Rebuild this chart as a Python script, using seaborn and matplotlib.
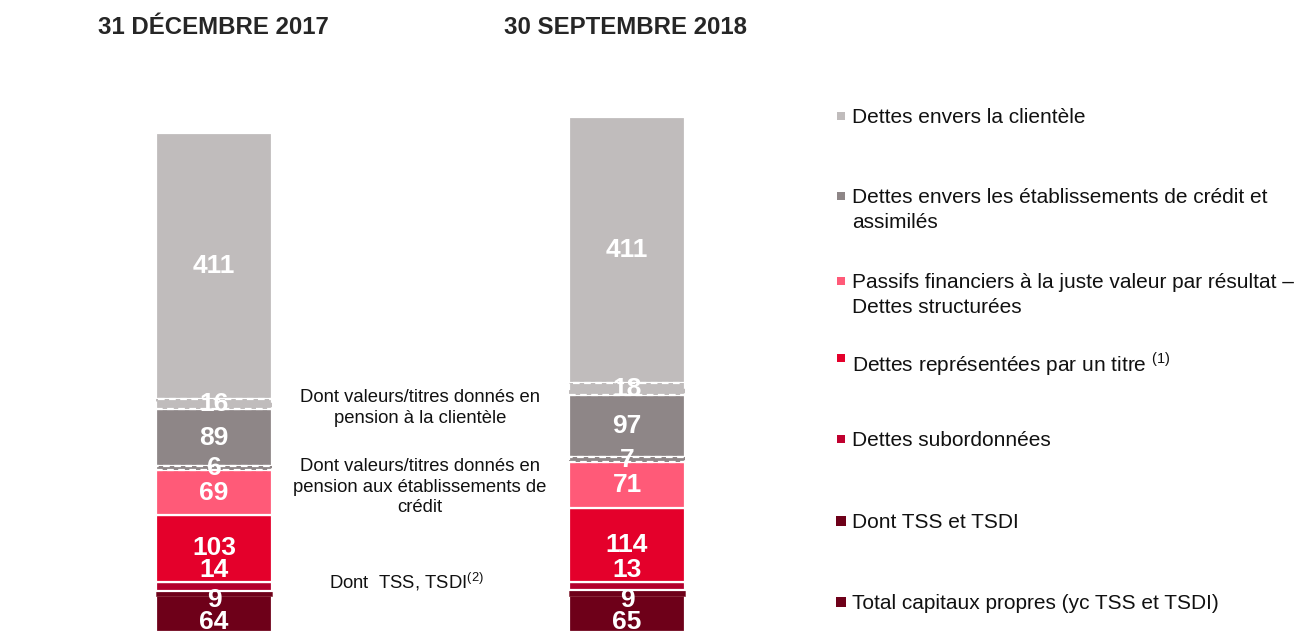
import numpy as np
import pandas as pd
import seaborn as sns
import matplotlib.pyplot as plt
from matplotlib.patches import Rectangle

# Data (Md EUR), stacked from bottom to top
dates = ['31 DÉCEMBRE 2017', '30 SEPTEMBRE 2018']
equity = [64, 65]
subordinated = [14, 13]
debt_securities = [103, 114]
structured = [69, 71]
repo_banks = [6, 7]
credit_inst = [89, 97]
repo_clients = [16, 18]
clients = [411, 411]
tss_tsdi = [9, 9]  # included in equity

legend_labels = [
    'Dettes envers la clientèle',
    'Dettes envers les établissements de crédit et\nassimilés',
    'Passifs financiers à la juste valeur par résultat –\nDettes structurées',
    r'Dettes représentées par un titre $^{\mathrm{(1)}}$',
    'Dettes subordonnées',
    'Dont TSS et TSDI',
    'Total capitaux propres (yc TSS et TSDI)',
]
notes = [
    'Dont valeurs/titres donnés en\npension à la clientèle',
    'Dont valeurs/titres donnés en\npension aux établissements de\ncrédit',
    r'Dont  TSS, TSDI$^{\mathrm{(2)}}$',
]

sns.set_style('white')
plt.rcParams['font.family'] = ['Liberation Sans', 'DejaVu Sans']
plt.rcParams['mathtext.fontset'] = 'custom'
plt.rcParams['mathtext.rm'] = 'Liberation Sans'

W, H = 1304, 632
fig = plt.figure(figsize=(W / 100, H / 100), dpi=100)
ax = fig.add_axes([100 / W, 0, 660 / W, 572 / H])

stack = [equity, subordinated, debt_securities, structured,
         repo_banks, credit_inst, repo_clients, clients]
colors = ['#6E0019', '#B3002D', '#E4002B', '#FF5A78',
          '#8E8687', '#8E8687', '#C0BCBC', '#C0BCBC']
dashed = [False, False, False, False, True, False, True, False]
bottoms = np.vstack([np.zeros(2), np.cumsum(stack, axis=0)[:-1]])


def draw(vals, bottom, color, **kw):
    df = pd.DataFrame({'date': dates, 'value': vals})
    sns.barplot(data=df, x='date', y='value', order=dates, bottom=bottom,
                color=color, saturation=1, width=0.28, errorbar=None,
                ax=ax, **kw)


# solid segments first, then the dashed "dont" parts on top
for k, vals in enumerate(stack):
    if not dashed[k]:
        draw(vals, bottoms[k], colors[k], edgecolor='white', linewidth=1.6)
    if k == 0:
        draw(tss_tsdi, np.array(equity) - np.array(tss_tsdi), colors[0],
             edgecolor='#8E3444', linewidth=0.5)
for k, vals in enumerate(stack):
    if dashed[k]:
        draw(vals, bottoms[k], colors[k], edgecolor='white', linewidth=1.6,
             linestyle=(0, (3, 2)), zorder=3)

# value labels
lab = dict(ha='center', va='center', color='white', fontsize=19,
           fontweight='bold', textcoords='offset points', zorder=5)
for i in range(2):
    for k, vals in enumerate(stack):
        b, v = bottoms[k][i], vals[i]
        if k == 0:
            ax.annotate(str(v), xy=(i, 0), xytext=(0, 7), **lab)
            ax.annotate(str(tss_tsdi[i]), xy=(i, b + v), xytext=(0, -7), **lab)
        elif k == 1:
            ax.annotate(str(v), xy=(i, b + v), xytext=(0, 8.5), **lab)
        else:
            ax.annotate(str(v), xy=(i, b + v / 2), xytext=(0, 0), **lab)

ax.set_xlim(-0.276, 1.322)
ax.set_ylim(0, 572 / 0.6465)
ax.axis('off')

# column headers
for i, d in enumerate(dates):
    fig.text((213 + 413 * i) / W, 1 - 28 / H, d, ha='center', va='center',
             fontsize=17.3, fontweight='bold')

# middle notes
for txt, x, y in zip(notes, [420, 420, 407], [408, 487, 582]):
    fig.text(x / W, 1 - y / H, txt, ha='center', va='center',
             fontsize=13.3, color='#111111', linespacing=1.28)

# legend
leg_y = [116, 196, 281, 358, 439, 521, 602]
leg_colors = ['#C0BCBC', '#8E8687', '#FF5A78', '#E4002B', '#C0002F',
              '#6E0019', '#6E0019']
for k, (txt, y) in enumerate(zip(legend_labels, leg_y)):
    s = 8 if k < 5 else 10
    fig.add_artist(Rectangle(((841 - s / 2) / W, 1 - (y + s / 2) / H),
                             s / W, s / H, transform=fig.transFigure,
                             facecolor=leg_colors[k], edgecolor='none'))
    fig.text(852 / W, 1 - (y - 8) / H, txt, ha='left', va='top',
             fontsize=15, color='#111111', linespacing=1.4)

fig.savefig('out.png', dpi=100)
